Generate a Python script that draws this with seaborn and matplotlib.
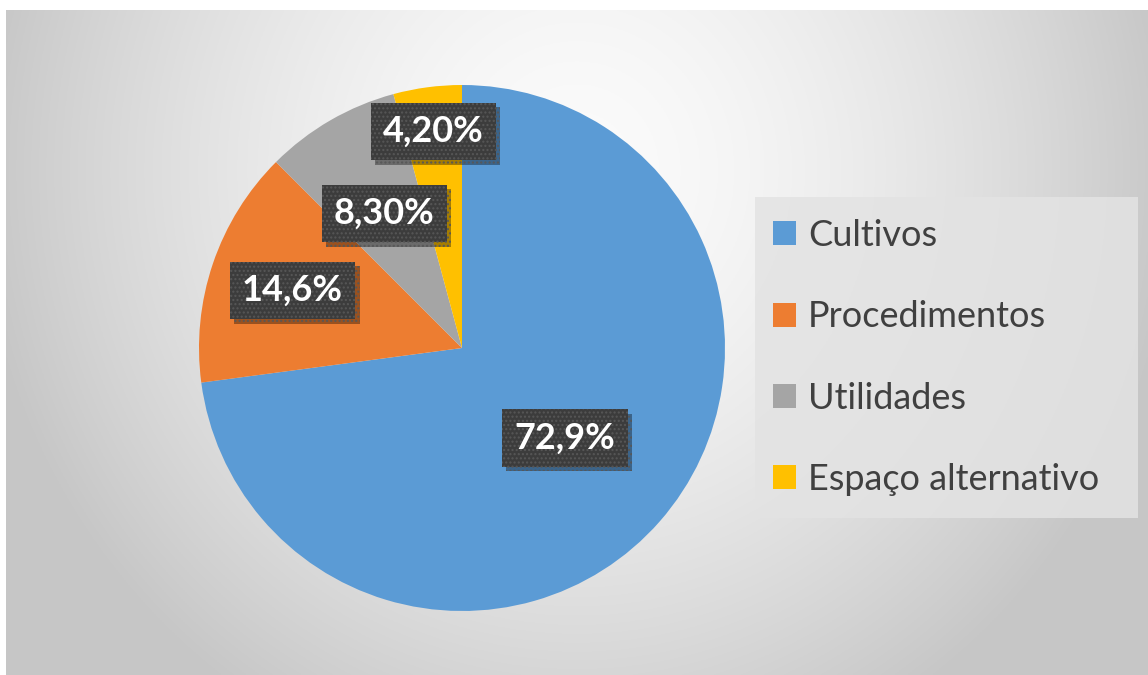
import numpy as np
import matplotlib
matplotlib.use("Agg")
import matplotlib.pyplot as plt
import matplotlib.patheffects as pe
from matplotlib.patches import Patch, Rectangle
import seaborn as sns

# ---- data ----
categories = ["Cultivos", "Procedimentos", "Utilidades", "Espaço alternativo"]
values = [72.9, 14.6, 8.3, 4.2]
value_labels = ["72,9%", "14,6%", "8,30%", "4,20%"]
label_dist = [0.52, 0.68, 0.59, 0.83]

sns.set_theme(style="white")
plt.rcParams["font.family"] = ["Lato", "DejaVu Sans"]
palette = sns.color_palette(["#5B9BD5", "#ED7D31", "#A5A5A5", "#FFC000"])

W, H = 1148, 675
fig = plt.figure(figsize=(W / 100, H / 100), dpi=100, facecolor="white")

# background with soft radial gradient
x0, y0 = 6, 10
bg = fig.add_axes([x0 / W, 0, (W - x0) / W, (H - y0) / H])
xs = np.linspace(x0, W, 600)
ys = np.linspace(y0, H, 400)
X, Y = np.meshgrid(xs, ys)
cx, cy = 577, 170
d = np.sqrt(((X - cx) / 571) ** 2 + ((Y - cy) / 600) ** 2)
val = 0.985 - 0.19 * np.clip(d, 0, 1.6) ** 1.6
val = np.clip(val, 0.78, 1)
img = np.dstack([val, val, val])
bg.imshow(img, aspect="auto", extent=[0, 1, 0, 1])
bg.set_axis_off()

# pie
pcx, pcy, r = 462, 348, 263
ax = fig.add_axes([(pcx - r) / W, (H - pcy - r) / H, 2 * r / W, 2 * r / H])
ax.set_facecolor("none")
wedges, _ = ax.pie(values, colors=palette, startangle=90, counterclock=False,
                   radius=1, wedgeprops=dict(linewidth=0))
ax.set_xlim(-1, 1)
ax.set_ylim(-1, 1)
ax.set_aspect("equal")
ax.set_axis_off()

for w, lab, dist in zip(wedges, value_labels, label_dist):
    ang = np.deg2rad((w.theta1 + w.theta2) / 2)
    t = ax.text(dist * np.cos(ang), dist * np.sin(ang), lab, ha="center", va="center",
                fontsize=26, fontweight="bold", color="white",
                bbox=dict(boxstyle="square,pad=0.34", facecolor="#3c3c3c",
                          edgecolor="#575757", hatch="....", linewidth=0))
    t.get_bbox_patch().set_path_effects([
        pe.SimplePatchShadow(offset=(3, -3), shadow_rgbFace="#000000", alpha=0.35),
        pe.Normal()])

# legend box
fig.patches.append(Rectangle((755 / W, 1 - 518 / H), (1138 - 755) / W, (518 - 197) / H,
                             transform=fig.transFigure, facecolor="#e3e3e3",
                             edgecolor="none", alpha=0.85, zorder=1))
handles = [Patch(facecolor=c, edgecolor="none") for c in palette]
leg = fig.legend(handles, categories, loc="center left",
                 bbox_to_anchor=(773 / W, 1 - 357.5 / H), frameon=False,
                 fontsize=26, handlelength=0.64, handleheight=0.64,
                 handletextpad=0.33, labelspacing=1.34, borderpad=0,
                 borderaxespad=0)
for t in leg.get_texts():
    t.set_color("#404040")

fig.savefig("out.png", dpi=100, facecolor="white")
